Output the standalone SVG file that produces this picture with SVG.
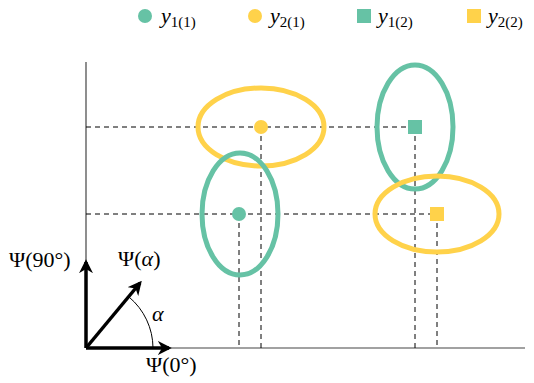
<svg xmlns="http://www.w3.org/2000/svg" width="534" height="383" viewBox="0 0 534 383">
<style>
.t{font-family:"Liberation Serif","DejaVu Serif",serif;font-size:22px;fill:#000}
.i{font-style:italic}
.s{font-size:15px}
.dash{stroke:#000;stroke-width:1;stroke-dasharray:5,4;fill:none}
.ax{stroke:#444;stroke-width:1.2;fill:none}
.g{fill:#66c2a5}
.y{fill:#ffd24a}
.eg{fill:none;stroke:#66c2a5;stroke-width:5}
.ey{fill:none;stroke:#ffd24a;stroke-width:5}
.arr{stroke:#000;stroke-width:3.5;fill:none;marker-end:url(#ah)}
</style>
<defs>
<marker id="ah" viewBox="0 0 10 10" refX="8" refY="5" markerWidth="4" markerHeight="4" orient="auto" markerUnits="strokeWidth">
<path d="M0,0 L10,5 L0,10 L3,5 z" fill="#000"/>
</marker>
</defs>
<g id="legend">
<circle class="g" cx="145" cy="16" r="7"/>
<text class="t i" x="161" y="23">y<tspan class="s" dy="4" font-style="normal">1(1)</tspan></text>
<circle class="y" cx="255" cy="16" r="7"/>
<text class="t i" x="270" y="23">y<tspan class="s" dy="4" font-style="normal">2(1)</tspan></text>
<rect class="g" x="357" y="9" width="14" height="14"/>
<text class="t i" x="378" y="23">y<tspan class="s" dy="4" font-style="normal">1(2)</tspan></text>
<rect class="y" x="467" y="9" width="14" height="14"/>
<text class="t i" x="488" y="23">y<tspan class="s" dy="4" font-style="normal">2(2)</tspan></text>
</g>
<g id="connectors">
<line class="ax" x1="86" y1="62" x2="86" y2="348"/>
<line class="ax" x1="86" y1="348" x2="525" y2="348"/>
<line class="dash" x1="86" y1="127" x2="415" y2="127"/>
<line class="dash" x1="86" y1="214" x2="437" y2="214"/>
<line class="dash" x1="239" y1="214" x2="239" y2="348"/>
<line class="dash" x1="261" y1="127" x2="261" y2="348"/>
<line class="dash" x1="415" y1="127" x2="415" y2="348"/>
<line class="dash" x1="437" y1="214" x2="437" y2="348"/>
<line class="arr" x1="86" y1="348" x2="86" y2="262"/>
<line class="arr" x1="86" y1="348" x2="169" y2="348"/>
<line class="arr" x1="86" y1="348" x2="140" y2="283"/>
<path d="M153,348 A67,67 0 0 0 129,297" fill="none" stroke="#000" stroke-width="1"/>
</g>
<g id="ell-y21">
<ellipse class="ey" cx="261" cy="127" rx="63" ry="39"/>
<circle class="y" cx="261" cy="127" r="7"/>
</g>
<g id="ell-y11">
<ellipse class="eg" cx="240" cy="214" rx="38" ry="61"/>
<circle class="g" cx="239" cy="214" r="7"/>
</g>
<g id="ell-y12">
<ellipse class="eg" cx="415" cy="127" rx="38" ry="62"/>
<rect class="g" x="408" y="120" width="14" height="14"/>
</g>
<g id="ell-y22">
<ellipse class="ey" cx="437" cy="214" rx="62" ry="38"/>
<rect class="y" x="430" y="207" width="14" height="14"/>
</g>
<g id="labels">
<text class="t" x="9" y="267">Ψ(90°)</text>
<text class="t" x="118" y="266">Ψ(<tspan class="i">α</tspan>)</text>
<text class="t i" x="152" y="321">α</text>
<text class="t" x="146" y="372">Ψ(0°)</text>
</g>
</svg>
